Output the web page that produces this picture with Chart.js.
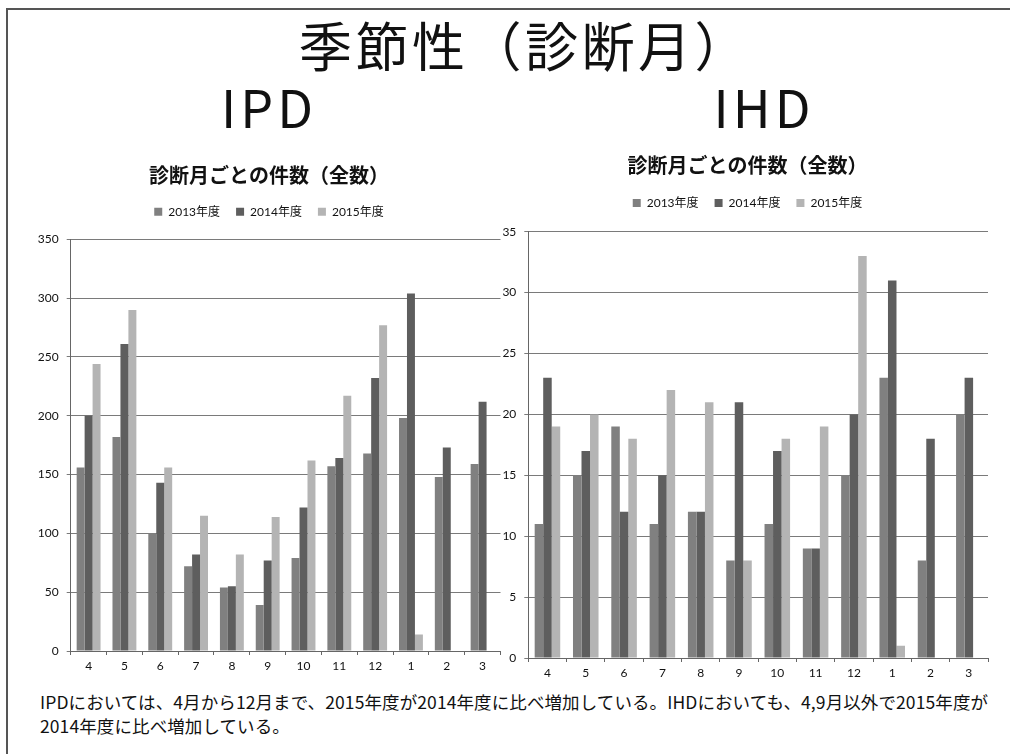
<!DOCTYPE html>
<html><head><meta charset="utf-8">
<script src="https://cdn.jsdelivr.net/npm/chart.js@4.4.1/dist/chart.umd.min.js"></script>
<style>
html,body{margin:0;padding:0;background:#fff;}
body{width:1010px;height:754px;position:relative;overflow:hidden;font-family:"Noto Sans CJK JP",sans-serif;}
#frame{position:absolute;left:6px;top:8px;width:1010px;height:760px;border-left:2px solid #555;border-top:2px solid #555;}
#main{position:absolute;left:20px;width:1010px;top:9px;text-align:center;font-size:53px;letter-spacing:3.5px;line-height:70px;color:#111;}
.sub{position:absolute;top:74px;font-size:52px;letter-spacing:4px;line-height:64px;color:#111;width:300px;text-align:center;}
#note{position:absolute;left:40px;top:690px;font-size:17.5px;letter-spacing:0.1px;line-height:24px;color:#111;width:970px;white-space:nowrap;}
canvas{position:absolute;}
</style></head><body>
<div id="frame"></div>
<div id="main">季節性（診断月）</div>
<div class="sub" style="left:119px">IPD</div>
<div class="sub" style="left:614px">IHD</div>
<canvas id="c1" width="504" height="541" style="left:0px;top:140px"></canvas>
<canvas id="c2" width="517" height="548" style="left:480px;top:140px"></canvas>
<div id="note">IPDにおいては、4月から12月まで、2015年度が2014年度に比べ増加している。IHDにおいても、4,9月以外で2015年度が<br>2014年度に比べ増加している。</div>
<script>
const months = ['4','5','6','7','8','9','10','11','12','1','2','3'];
const seriesNames = ['2013年度','2014年度','2015年度'];
const ipd2013 = [156,182,100,72,54,39,79,157,168,198,148,159];
const ipd2014 = [200,261,143,82,55,77,122,164,232,304,173,212];
const ipd2015 = [244,290,156,115,82,114,162,217,277,14,null,null];
const ihd2013 = [11,15,19,11,12,8,11,9,15,23,8,20];
const ihd2014 = [23,17,12,15,12,21,17,9,20,31,18,23];
const ihd2015 = [19,20,18,22,21,8,18,19,33,1,null,null];
const chartTitle = '診断月ごとの件数（全数）';
const colors = ['#808080','#5e5e5e','#b4b4b4'];

const legendGap = {
  id: 'legendGap',
  beforeInit(chart) {
    const orig = chart.legend.fit;
    chart.legend.fit = function () {
      orig.call(this);
      this.height = chart.options.plugins.legendGap.h;
    };
  }
};

function make(id, data, max, step, cfg) {
  const ctx = document.getElementById(id);
  return new Chart(ctx, {
    type: 'bar',
    data: {
      labels: months,
      datasets: data.map((d, i) => ({
        label: seriesNames[i], data: d, backgroundColor: colors[i],
        borderWidth: 0, categoryPercentage: 0.667, barPercentage: 1.0, yAxisID: 'y'
      }))
    },
    plugins: [legendGap],
    options: {
      responsive: false, animation: false, devicePixelRatio: 1,
      layout: { padding: { left: cfg.pl, right: 0, top: 0, bottom: 0 } },
      plugins: {
        legendGap: { h: cfg.legH },
        title: { display: true, text: chartTitle, color: '#111',
          font: { family: "'Noto Sans CJK JP', sans-serif", size: 20, weight: 'bold' },
          padding: { top: cfg.ta, bottom: cfg.tb } },
        legend: { display: true, position: 'top',
          labels: { boxWidth: 8, boxHeight: 8, padding: 16, color: '#111',
            font: { family: "Lato, 'Noto Sans CJK JP', sans-serif", size: 12 } } },
        tooltip: { enabled: false }
      },
      scales: {
        x: {
          grid: { display: true, drawOnChartArea: false, drawTicks: true, tickLength: 4, color: '#666', offset: true },
          border: { display: true, color: '#666', width: 1 },
          ticks: { color: '#111', padding: 4, font: { family: "Lato, sans-serif", size: 12 } },
          afterFit(s) { s.height = 30; }
        },
        y: {
          position: 'left', min: 0, max: max,
          grid: { color: '#7a7a7a', lineWidth: 1, tickLength: 4 },
          border: { display: true, color: '#666', width: 1 },
          ticks: { stepSize: step, color: '#111', padding: 8, font: { family: "Lato, sans-serif", size: 12 } },
          afterFit(s) { s.width = cfg.yw; }
        },
        yR: {
          position: 'right', display: true,
          grid: { display: false, drawTicks: false },
          border: { display: false },
          ticks: { display: false },
          afterFit(s) { s.width = cfg.rw; }
        }
      }
    }
  });
}

make('c1', [ipd2013, ipd2014, ipd2015], 350, 50, { pl: 34, yw: 36.7, rw: 3.5, ta: 23, tb: 2.7, legH: 49.6 });
make('c2', [ihd2013, ihd2014, ihd2015], 35, 5, { pl: 18, yw: 30.3, rw: 9, ta: 13, tb: 4, legH: 50.7 });
</script>
</body></html>
